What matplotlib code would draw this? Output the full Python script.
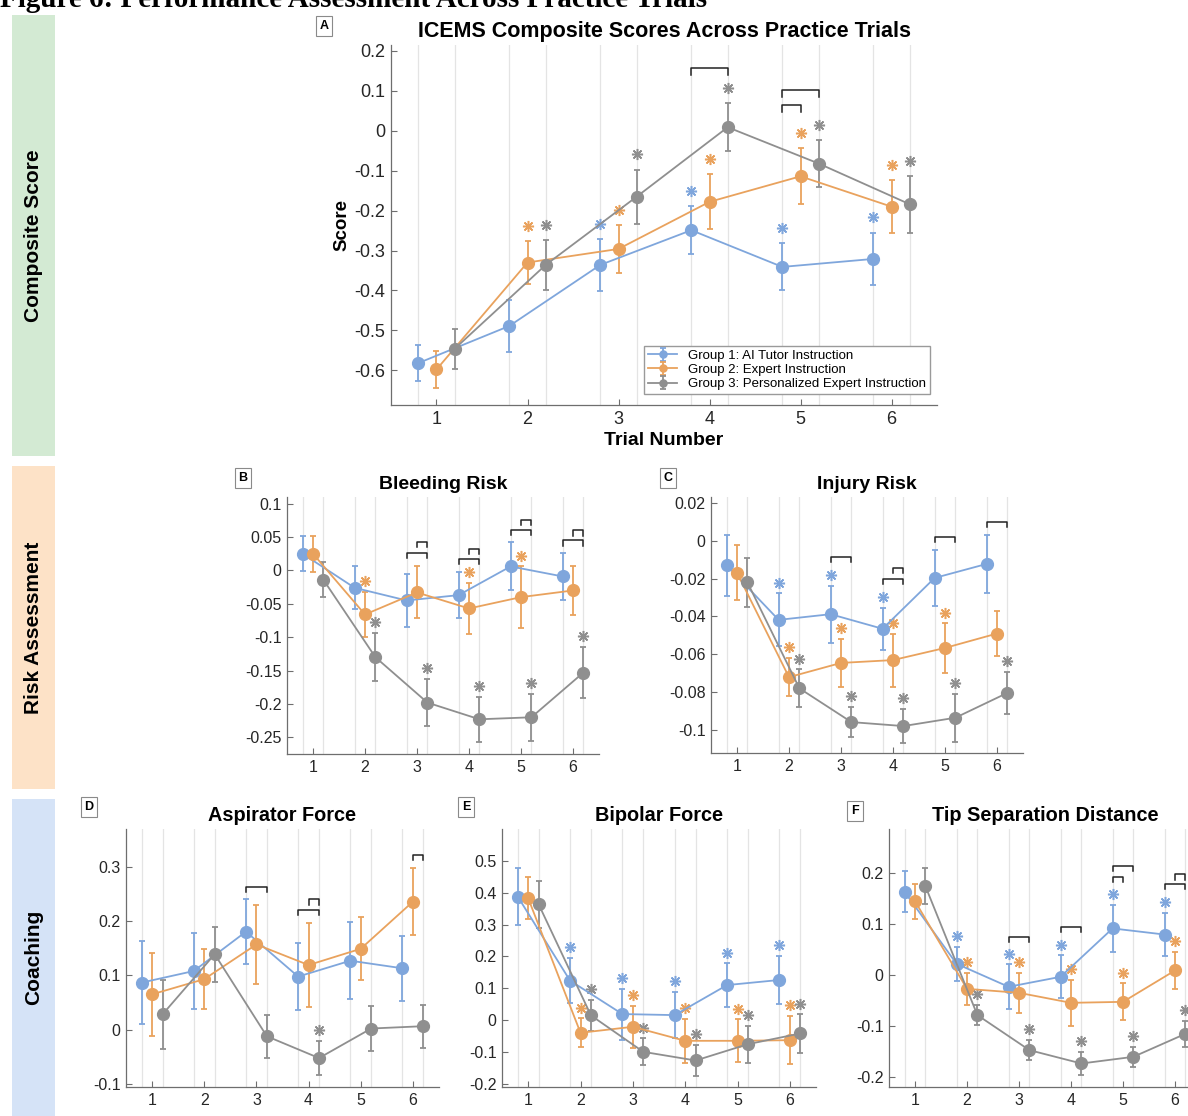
import numpy as np
import matplotlib.pyplot as plt
from matplotlib.patches import Rectangle
from matplotlib.ticker import FuncFormatter

plt.rcParams['font.family'] = ['Liberation Sans', 'DejaVu Sans']
plt.rcParams['axes.unicode_minus'] = False

# ---- data ----
trials = [1, 2, 3, 4, 5, 6]
groups = ['Group 1: AI Tutor Instruction', 'Group 2: Expert Instruction',
          'Group 3: Personalized Expert Instruction']

# A: composite score
comp_g1 = [-0.582, -0.489, -0.336, -0.249, -0.341, -0.321]
comp_g1_err = [0.046, 0.065, 0.065, 0.060, 0.059, 0.066]
comp_g2 = [-0.598, -0.330, -0.296, -0.178, -0.114, -0.190]
comp_g2_err = [0.047, 0.053, 0.060, 0.069, 0.070, 0.067]
comp_g3 = [-0.546, -0.336, -0.165, 0.009, -0.082, -0.184]
comp_g3_err = [0.050, 0.062, 0.068, 0.060, 0.058, 0.071]
comp_stars = [[0, 0, 1, 1, 1, 1], [0, 1, 1, 1, 1, 1], [0, 1, 1, 1, 1, 1]]
comp_brackets = [(4, 0, 2, 0.158), (5, 0, 2, 0.102), (5, 0, 1, 0.065)]

# B: bleeding risk
bleed_g1 = [0.025, -0.026, -0.045, -0.037, 0.006, -0.009]
bleed_g1_err = [0.026, 0.032, 0.040, 0.035, 0.036, 0.035]
bleed_g2 = [0.025, -0.066, -0.033, -0.057, -0.040, -0.030]
bleed_g2_err = [0.027, 0.034, 0.039, 0.038, 0.046, 0.037]
bleed_g3 = [-0.014, -0.130, -0.198, -0.223, -0.220, -0.153]
bleed_g3_err = [0.026, 0.036, 0.035, 0.034, 0.035, 0.038]
bleed_stars = [[0, 0, 0, 0, 0, 0], [0, 1, 0, 1, 1, 0], [0, 1, 1, 1, 1, 1]]
bleed_brackets = [(3, 0, 2, 0.026), (3, 1, 2, 0.0425), (4, 0, 2, 0.0175), (4, 1, 2, 0.0325),
                  (5, 0, 2, 0.061), (5, 1, 2, 0.076), (6, 0, 2, 0.045), (6, 1, 2, 0.060)]

# C: injury risk
inj_g1 = [-0.013, -0.0418, -0.0388, -0.0465, -0.0197, -0.0123]
inj_g1_err = [0.016, 0.014, 0.015, 0.011, 0.015, 0.0155]
inj_g2 = [-0.0169, -0.072, -0.0645, -0.063, -0.0566, -0.049]
inj_g2_err = [0.0144, 0.010, 0.0125, 0.014, 0.013, 0.012]
inj_g3 = [-0.022, -0.0779, -0.0957, -0.0978, -0.0934, -0.0803]
inj_g3_err = [0.013, 0.010, 0.008, 0.009, 0.0127, 0.011]
inj_stars = [[0, 1, 1, 1, 0, 0], [0, 1, 1, 1, 1, 0], [0, 1, 1, 1, 1, 1]]
inj_brackets = [(3, 0, 2, -0.0085), (4, 0, 2, -0.0203), (4, 1, 2, -0.0146),
                (5, 0, 2, 0.0018), (6, 0, 2, 0.010)]

# D: aspirator force
asp_g1 = [0.0866, 0.108, 0.1806, 0.0977, 0.127, 0.113]
asp_g1_err = [0.077, 0.070, 0.060, 0.062, 0.071, 0.060]
asp_g2 = [0.065, 0.093, 0.157, 0.119, 0.149, 0.236]
asp_g2_err = [0.077, 0.055, 0.073, 0.077, 0.058, 0.062]
asp_g3 = [0.028, 0.139, -0.0124, -0.0526, 0.0019, 0.0062]
asp_g3_err = [0.064, 0.051, 0.040, 0.032, 0.042, 0.040]
asp_stars = [[0, 0, 0, 0, 0, 0], [0, 0, 0, 0, 0, 0], [0, 0, 0, 1, 0, 0]]
asp_brackets = [(3, 0, 2, 0.263), (4, 0, 2, 0.220), (4, 1, 2, 0.240), (6, 1, 2, 0.322)]

# E: bipolar force
bip_g1 = [0.388, 0.124, 0.019, 0.0157, 0.110, 0.126]
bip_g1_err = [0.088, 0.071, 0.080, 0.072, 0.068, 0.076]
bip_g2 = [0.3826, -0.0398, -0.021, -0.065, -0.065, -0.063]
bip_g2_err = [0.066, 0.045, 0.066, 0.069, 0.067, 0.075]
bip_g3 = [0.3637, 0.0147, -0.0996, -0.1268, -0.0755, -0.042]
bip_g3_err = [0.074, 0.048, 0.042, 0.049, 0.058, 0.060]
bip_stars = [[0, 1, 1, 1, 1, 1], [0, 1, 1, 1, 1, 1], [0, 1, 1, 1, 1, 1]]
bip_brackets = []

# F: tip separation distance
tip_g1 = [0.1627, 0.0216, -0.0235, -0.0039, 0.091, 0.079]
tip_g1_err = [0.040, 0.033, 0.044, 0.042, 0.046, 0.042]
tip_g2 = [0.1444, -0.0275, -0.0353, -0.0549, -0.053, 0.0085]
tip_g2_err = [0.034, 0.031, 0.039, 0.045, 0.036, 0.037]
tip_g3 = [0.1739, -0.079, -0.1477, -0.1739, -0.1608, -0.1157]
tip_g3_err = [0.035, 0.020, 0.020, 0.022, 0.020, 0.026]
tip_stars = [[0, 1, 1, 1, 1, 1], [0, 1, 1, 1, 1, 1], [0, 1, 1, 1, 1, 1]]
tip_brackets = [(3, 0, 2, 0.0745), (4, 0, 2, 0.0935), (5, 0, 2, 0.213), (5, 0, 1, 0.192),
                (6, 0, 2, 0.178), (6, 1, 2, 0.197)]

colors = ['#7fa6dc', '#e9a25d', '#8f8f8f']
offsets = [-0.2, 0.0, 0.2]
axcol = '#6e6e6e'

W, H = 1188, 1116


def box(l, t, r, b):
    return [l / W, 1 - b / H, (r - l) / W, (b - t) / H]


def fmt(v, _):
    return '%g' % (round(v, 4) + 0.0)


def draw_panel(ax, means, errs, stars, brackets, ylim, yticks, title, tick_fs, title_fs):
    x = np.array(trials, dtype=float)
    span = ylim[1] - ylim[0]
    ax.set_xticks(np.concatenate([x + o for o in offsets]), minor=True)
    ax.grid(which='minor', axis='x', color='#e4e4e4', lw=0.9)
    ax.set_axisbelow(True)
    handles = []
    for g in range(3):
        xs = x + offsets[g]
        m = np.array(means[g])
        e = np.array(errs[g])
        h = ax.errorbar(xs, m, yerr=e, color=colors[g], marker='o', ms=8.5, lw=1.3,
                        elinewidth=1.3, capsize=2.5, capthick=1.3, label=groups[g])
        handles.append(h)
        s = np.array(stars[g], dtype=bool)
        ax.plot(xs[s], (m + e)[s] + 0.042 * span, ls='none', marker=(8, 2, 0),
                ms=8, mew=1.1, color=colors[g])
    for t, ga, gb, yb in brackets:
        xa, xb = t + offsets[ga], t + offsets[gb]
        leg = 0.02 * span
        ax.plot([xa, xa, xb, xb], [yb - leg, yb, yb, yb - leg], color='#222222', lw=1.1)
    ax.set_xlim(0.5, 6.5)
    ax.set_ylim(*ylim)
    ax.set_xticks(trials)
    ax.set_yticks(yticks)
    ax.yaxis.set_major_formatter(FuncFormatter(fmt))
    for sp in ['top', 'right']:
        ax.spines[sp].set_visible(False)
    for sp in ['left', 'bottom']:
        ax.spines[sp].set_color(axcol)
        ax.spines[sp].set_linewidth(0.9)
    ax.tick_params(which='major', direction='in', length=4, color=axcol,
                   labelsize=tick_fs, labelcolor='#262626', pad=4)
    ax.tick_params(which='minor', length=0)
    ax.set_title(title, fontsize=title_fs, fontweight='bold', pad=6)
    return handles


fig = plt.figure(figsize=(11.88, 11.16), dpi=100)

# header line, cut off at the top of the page
fig.text(0.0, 1 - 7 / H, 'Figure 6: Performance Assessment Across Practice Trials',
         family=['Liberation Serif', 'DejaVu Serif'], fontweight='bold', fontsize=21,
         ha='left', va='baseline')

# coloured section bands on the left
bands = [(15, 456, '#d3ead3', 'Composite Score'),
         (466, 789, '#fde2c7', 'Risk Assessment'),
         (799, 1116, '#d5e3f7', 'Coaching')]
for top, bot, col, lab in bands:
    fig.patches.append(Rectangle((12 / W, 1 - bot / H), 43 / W, (bot - top) / H,
                                 transform=fig.transFigure, facecolor=col, edgecolor='none'))
    fig.text(34 / W, 1 - (top + bot) / 2 / H, lab, rotation=90, ha='center', va='center',
             fontsize=15, fontweight='bold',
             family=['Liberation Sans Narrow', 'Liberation Sans', 'DejaVu Sans'])

axA = fig.add_axes(box(391, 45, 937, 405))
hA = draw_panel(axA, [comp_g1, comp_g2, comp_g3], [comp_g1_err, comp_g2_err, comp_g3_err],
                comp_stars, comp_brackets, (-0.687, 0.215), np.arange(-0.6, 0.21, 0.1),
                'ICEMS Composite Scores Across Practice Trials', 13, 15.5)
axA.set_xlabel('Trial Number', fontsize=14, fontweight='bold', labelpad=3)
axA.set_ylabel('Score', fontsize=13.5, fontweight='bold', labelpad=3)
axA.legend(hA, groups, loc='lower right', bbox_to_anchor=(0.987, 0.03), fontsize=9.5,
           frameon=True, fancybox=False, edgecolor='#9a9a9a', framealpha=1,
           borderaxespad=0, handlelength=2.2, markerscale=0.6, labelspacing=0.15,
           borderpad=0.3)

axB = fig.add_axes(box(287, 497, 599, 754))
draw_panel(axB, [bleed_g1, bleed_g2, bleed_g3], [bleed_g1_err, bleed_g2_err, bleed_g3_err],
           bleed_stars, bleed_brackets, (-0.275, 0.11), np.arange(-0.25, 0.11, 0.05),
           'Bleeding Risk', 11.5, 14)

axC = fig.add_axes(box(711, 497, 1023, 753))
draw_panel(axC, [inj_g1, inj_g2, inj_g3], [inj_g1_err, inj_g2_err, inj_g3_err],
           inj_stars, inj_brackets, (-0.112, 0.023), np.arange(-0.1, 0.021, 0.02),
           'Injury Risk', 11.5, 14)

axD = fig.add_axes(box(126, 829, 439, 1087))
draw_panel(axD, [asp_g1, asp_g2, asp_g3], [asp_g1_err, asp_g2_err, asp_g3_err],
           asp_stars, asp_brackets, (-0.106, 0.37), np.arange(-0.1, 0.31, 0.1),
           'Aspirator Force', 11.5, 14.3)

axE = fig.add_axes(box(502, 829, 816, 1087))
draw_panel(axE, [bip_g1, bip_g2, bip_g3], [bip_g1_err, bip_g2_err, bip_g3_err],
           bip_stars, bip_brackets, (-0.21, 0.6), np.arange(-0.2, 0.51, 0.1),
           'Bipolar Force', 11.5, 14.3)

axF = fig.add_axes(box(889, 829, 1201, 1087))
draw_panel(axF, [tip_g1, tip_g2, tip_g3], [tip_g1_err, tip_g2_err, tip_g3_err],
           tip_stars, tip_brackets, (-0.22, 0.286), np.arange(-0.2, 0.21, 0.1),
           'Tip Separation Distance', 11.5, 14.3)

# panel letters in small boxes
letters = [('A', 324, 26), ('B', 243, 478), ('C', 668, 478),
           ('D', 89, 807), ('E', 466, 807), ('F', 855, 811)]
for lab, px, py in letters:
    fig.text(px / W, 1 - py / H, lab, ha='center', va='center', fontsize=9, fontweight='bold',
             bbox=dict(boxstyle='square,pad=0.3', facecolor='white', edgecolor='#8a8a8a', lw=0.8))

fig.savefig('out.png', dpi=100)
